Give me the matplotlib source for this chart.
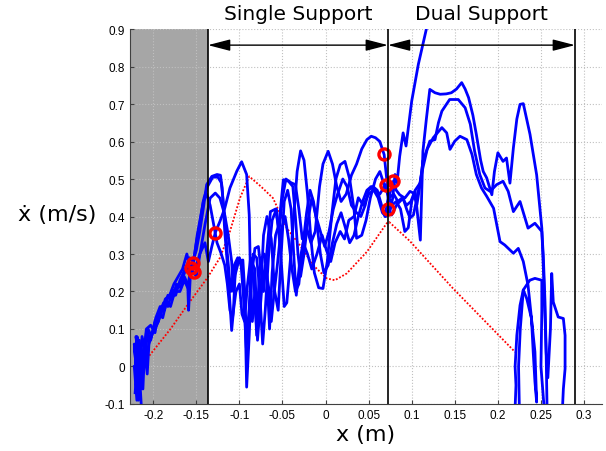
import numpy as np
import matplotlib
matplotlib.use("Agg")
import matplotlib.pyplot as plt
from matplotlib.patches import FancyArrowPatch
import matplotlib.transforms as mtransforms

# phase boundaries (x in m)
x_lo, x_hi = -0.227, 0.3205
ss_start, ds_start, ds_end = -0.1365, 0.0724, 0.2895
arrow_y = 0.857

xticks = [-0.2, -0.15, -0.1, -0.05, 0, 0.05, 0.1, 0.15, 0.2, 0.25, 0.3]
xtick_labels = ["-0.2", "-0.15", "-0.1", "-0.05", "0", "0.05", "0.1", "0.15", "0.2", "0.25", "0.3"]
yticks = [-0.1, 0, 0.1, 0.2, 0.3, 0.4, 0.5, 0.6, 0.7, 0.8, 0.9]
ytick_labels = ["-0.1", "0", "0.1", "0.2", "0.3", "0.4", "0.5", "0.6", "0.7", "0.8", "0.9"]

# measured trajectories (x, xdot)
traj_a = [(-0.219, -0.03), (-0.222, 0.06), (-0.217, -0.09), (-0.214, 0.04), (-0.219, 0.08), (-0.212, 0.02),
          (-0.208, 0.09), (-0.203, 0.07), (-0.198, 0.12), (-0.193, 0.14), (-0.188, 0.17), (-0.183, 0.16),
          (-0.178, 0.20), (-0.172, 0.21), (-0.167, 0.23), (-0.162, 0.26), (-0.158, 0.29), (-0.154, 0.28),
          (-0.150, 0.31), (-0.146, 0.36), (-0.142, 0.42), (-0.138, 0.485), (-0.132, 0.507), (-0.126, 0.512),
          (-0.122, 0.51), (-0.120, 0.476), (-0.117, 0.36), (-0.113, 0.244), (-0.109, 0.096), (-0.107, 0.146),
          (-0.105, 0.244), (-0.101, 0.28), (-0.096, 0.284), (-0.094, 0.208), (-0.0916, -0.055), (-0.0886, 0.083),
          (-0.0858, 0.244), (-0.082, 0.315), (-0.078, 0.32), (-0.075, 0.26), (-0.072, 0.20), (-0.068, 0.31),
          (-0.064, 0.413), (-0.058, 0.42), (-0.054, 0.36), (-0.050, 0.45), (-0.046, 0.50), (-0.040, 0.49),
          (-0.035, 0.485), (-0.031, 0.42), (-0.027, 0.34), (-0.022, 0.37), (-0.017, 0.33), (-0.012, 0.36),
          (-0.007, 0.48), (-0.003, 0.54), (0.003, 0.574), (0.008, 0.54), (0.013, 0.48), (0.018, 0.44),
          (0.024, 0.46), (0.030, 0.51), (0.036, 0.54), (0.042, 0.58), (0.048, 0.605), (0.053, 0.614),
          (0.058, 0.61), (0.063, 0.60), (0.068, 0.565), (0.071, 0.50), (0.073, 0.43), (0.0748, 0.414),
          (0.078, 0.45), (0.0806, 0.512), (0.083, 0.49), (0.086, 0.56), (0.090, 0.623), (0.0934, 0.588),
          (0.100, 0.708), (0.1077, 0.806), (0.117, 0.90), (0.121, 0.96)]

traj_b = [(-0.214, -0.10), (-0.217, 0.02), (-0.212, -0.06), (-0.210, 0.05), (-0.207, -0.02), (-0.205, 0.06),
          (-0.201, 0.09), (-0.196, 0.11), (-0.191, 0.14), (-0.186, 0.18), (-0.181, 0.19), (-0.176, 0.22),
          (-0.171, 0.24), (-0.166, 0.26), (-0.161, 0.30), (-0.157, 0.26), (-0.155, 0.257), (-0.150, 0.24),
          (-0.146, 0.297), (-0.140, 0.378), (-0.134, 0.449), (-0.128, 0.4625), (-0.1226, 0.449), (-0.117, 0.404),
          (-0.113, 0.351), (-0.109, 0.28), (-0.107, 0.20), (-0.104, 0.27), (-0.100, 0.29), (-0.097, 0.27),
          (-0.094, 0.15), (-0.090, 0.10), (-0.087, 0.20), (-0.084, 0.30), (-0.080, 0.29), (-0.077, 0.22),
          (-0.073, 0.06), (-0.070, 0.15), (-0.066, 0.30), (-0.062, 0.39), (-0.057, 0.42), (-0.052, 0.30),
          (-0.048, 0.16), (-0.045, 0.17), (-0.041, 0.28), (-0.037, 0.40), (-0.033, 0.52), (-0.029, 0.575),
          (-0.025, 0.55), (-0.021, 0.46), (-0.017, 0.34), (-0.013, 0.25), (-0.008, 0.21), (-0.003, 0.208),
          (0.002, 0.28), (0.007, 0.40), (0.012, 0.50), (0.017, 0.538), (0.0225, 0.547), (0.028, 0.50),
          (0.033, 0.42), (0.036, 0.342), (0.042, 0.35), (0.047, 0.39), (0.052, 0.45), (0.058, 0.50),
          (0.063, 0.52), (0.068, 0.485), (0.072, 0.46), (0.077, 0.43), (0.082, 0.44), (0.087, 0.42),
          (0.092, 0.36), (0.096, 0.37), (0.100, 0.44), (0.104, 0.467), (0.107, 0.40), (0.110, 0.337),
          (0.113, 0.574), (0.117, 0.66), (0.121, 0.739), (0.127, 0.73), (0.133, 0.726), (0.140, 0.727),
          (0.146, 0.730), (0.152, 0.74), (0.158, 0.757), (0.162, 0.74), (0.166, 0.717), (0.171, 0.67),
          (0.175, 0.619), (0.180, 0.55), (0.183, 0.52), (0.187, 0.503), (0.193, 0.458), (0.196, 0.52),
          (0.200, 0.57), (0.206, 0.547), (0.210, 0.556), (0.214, 0.489), (0.218, 0.583), (0.222, 0.66),
          (0.2257, 0.699), (0.2295, 0.701), (0.2373, 0.619), (0.245, 0.511), (0.251, 0.369), (0.2535, 0.217),
          (0.256, 0.039), (0.257, -0.10), (0.255, -0.15), (0.250, 0.0), (0.251, 0.15), (0.251, 0.23),
          (0.243, 0.235), (0.237, 0.23), (0.2295, 0.204), (0.226, 0.10), (0.224, 0.0), (0.225, -0.12)]

traj_c = [(-0.221, -0.07), (-0.218, 0.03), (-0.220, 0.08), (-0.215, 0.00), (-0.213, 0.08), (-0.209, 0.04),
          (-0.206, 0.10), (-0.202, 0.08), (-0.197, 0.13), (-0.192, 0.16), (-0.187, 0.15), (-0.183, 0.19),
          (-0.178, 0.18), (-0.173, 0.22), (-0.168, 0.21), (-0.164, 0.24), (-0.160, 0.22), (-0.159, 0.15),
          (-0.157, 0.24), (-0.155, 0.26), (-0.150, 0.27), (-0.146, 0.30), (-0.140, 0.33), (-0.136, 0.28),
          (-0.132, 0.32), (-0.128, 0.357), (-0.1226, 0.387), (-0.117, 0.422), (-0.111, 0.476), (-0.103, 0.521),
          (-0.0974, 0.546), (-0.0916, 0.512), (-0.0886, 0.404), (-0.087, 0.226), (-0.085, 0.12), (-0.082, 0.20),
          (-0.080, 0.083), (-0.077, 0.25), (-0.074, 0.29), (-0.071, 0.30), (-0.068, 0.24), (-0.065, 0.10),
          (-0.062, 0.25), (-0.058, 0.35), (-0.054, 0.38), (-0.049, 0.498), (-0.043, 0.494), (-0.038, 0.48),
          (-0.035, 0.40), (-0.032, 0.30), (-0.029, 0.24), (-0.025, 0.30), (-0.021, 0.38), (-0.016, 0.45),
          (-0.011, 0.40), (-0.006, 0.36), (-0.001, 0.32), (0.004, 0.36), (0.009, 0.42), (0.014, 0.46),
          (0.020, 0.50), (0.025, 0.48), (0.030, 0.43), (0.036, 0.41), (0.041, 0.40), (0.046, 0.43),
          (0.050, 0.47), (0.055, 0.48), (0.060, 0.47), (0.065, 0.43), (0.069, 0.40), (0.072, 0.44),
          (0.0786, 0.494), (0.082, 0.47), (0.086, 0.458), (0.092, 0.449), (0.098, 0.467), (0.102, 0.4625),
          (0.106, 0.431), (0.110, 0.49), (0.113, 0.547), (0.121, 0.601), (0.127, 0.605), (0.131, 0.65),
          (0.135, 0.681), (0.144, 0.712), (0.154, 0.712), (0.162, 0.69), (0.168, 0.646), (0.173, 0.574),
          (0.179, 0.512), (0.185, 0.476), (0.191, 0.467), (0.1986, 0.485), (0.206, 0.494), (0.212, 0.467),
          (0.218, 0.413), (0.2257, 0.44), (0.235, 0.369), (0.243, 0.382), (0.251, 0.36), (0.2527, 0.297),
          (0.2547, 0.172), (0.256, 0.039), (0.258, -0.03), (0.261, 0.10), (0.2625, 0.248), (0.2643, 0.172),
          (0.270, 0.132), (0.276, 0.128), (0.278, 0.083), (0.278, -0.006), (0.276, -0.06), (0.275, -0.11)]

traj_d = [(-0.216, 0.01), (-0.220, -0.05), (-0.218, 0.05), (-0.213, -0.03), (-0.211, 0.06), (-0.207, 0.03),
          (-0.204, 0.08), (-0.199, 0.10), (-0.194, 0.12), (-0.190, 0.16), (-0.185, 0.17), (-0.180, 0.16),
          (-0.175, 0.20), (-0.169, 0.20), (-0.164, 0.23), (-0.160, 0.21), (-0.157, 0.255), (-0.153, 0.28),
          (-0.149, 0.35), (-0.145, 0.40), (-0.141, 0.45), (-0.137, 0.48), (-0.131, 0.505), (-0.125, 0.505),
          (-0.121, 0.49), (-0.117, 0.40), (-0.114, 0.30), (-0.110, 0.20), (-0.106, 0.27), (-0.102, 0.29),
          (-0.098, 0.27), (-0.095, 0.18), (-0.092, 0.05), (-0.089, 0.14), (-0.086, 0.28), (-0.082, 0.26),
          (-0.079, 0.07), (-0.076, 0.16), (-0.072, 0.35), (-0.068, 0.40), (-0.063, 0.34), (-0.059, 0.20),
          (-0.055, 0.15), (-0.052, 0.28), (-0.048, 0.44), (-0.044, 0.47), (-0.040, 0.42), (-0.037, 0.30),
          (-0.034, 0.19), (-0.030, 0.28), (-0.026, 0.33), (-0.021, 0.30), (-0.016, 0.26), (-0.010, 0.30),
          (-0.004, 0.35), (0.001, 0.31), (0.006, 0.28), (0.011, 0.33), (0.017, 0.36), (0.022, 0.34),
          (0.027, 0.39), (0.033, 0.40), (0.038, 0.45), (0.044, 0.43), (0.050, 0.46), (0.056, 0.47),
          (0.061, 0.45), (0.066, 0.41), (0.070, 0.40), (0.073, 0.42), (0.0767, 0.404), (0.0825, 0.431),
          (0.090, 0.449), (0.094, 0.42), (0.098, 0.396), (0.102, 0.404), (0.1076, 0.467), (0.113, 0.53),
          (0.118, 0.58), (0.125, 0.61), (0.135, 0.637), (0.1406, 0.623), (0.1444, 0.579), (0.150, 0.601),
          (0.156, 0.614), (0.164, 0.605), (0.170, 0.565), (0.175, 0.512), (0.181, 0.476), (0.187, 0.454),
          (0.195, 0.422), (0.2025, 0.333), (0.208, 0.324), (0.218, 0.302), (0.2237, 0.315), (0.2295, 0.28),
          (0.235, 0.217), (0.239, 0.128), (0.243, 0.039), (0.245, -0.095), (0.243, -0.04), (0.241, 0.039),
          (0.239, 0.128), (0.2335, 0.181), (0.2295, 0.204), (0.2257, 0.163), (0.222, 0.083), (0.220, 0.0),
          (0.221, -0.05), (0.220, -0.11)]

traj_e = [(-0.222, 0.00), (-0.219, -0.09), (-0.216, 0.07), (-0.214, -0.04), (-0.211, 0.03), (-0.208, 0.10),
          (-0.203, 0.11), (-0.198, 0.09), (-0.194, 0.14), (-0.189, 0.13), (-0.184, 0.18), (-0.179, 0.19),
          (-0.174, 0.19), (-0.169, 0.23), (-0.165, 0.25), (-0.161, 0.27), (-0.158, 0.25), (-0.154, 0.27),
          (-0.150, 0.33), (-0.146, 0.38), (-0.142, 0.44), (-0.138, 0.46), (-0.134, 0.43), (-0.130, 0.38),
          (-0.126, 0.33), (-0.121, 0.30), (-0.117, 0.27), (-0.114, 0.22), (-0.111, 0.15), (-0.108, 0.13),
          (-0.104, 0.20), (-0.100, 0.22), (-0.097, 0.14), (-0.094, 0.12), (-0.091, 0.21), (-0.087, 0.29),
          (-0.083, 0.22), (-0.080, 0.10), (-0.077, 0.12), (-0.074, 0.21), (-0.070, 0.27), (-0.066, 0.21),
          (-0.063, 0.12), (-0.060, 0.19), (-0.056, 0.27), (-0.052, 0.36), (-0.047, 0.40), (-0.043, 0.34),
          (-0.039, 0.26), (-0.035, 0.20), (-0.031, 0.22), (-0.027, 0.31), (-0.022, 0.41), (-0.018, 0.47),
          (-0.014, 0.44), (-0.010, 0.38), (-0.006, 0.30), (-0.002, 0.25), (0.003, 0.27), (0.008, 0.33),
          (0.013, 0.38), (0.018, 0.41), (0.023, 0.37), (0.028, 0.33), (0.033, 0.35), (0.038, 0.40),
          (0.043, 0.44), (0.048, 0.47), (0.053, 0.48), (0.058, 0.47), (0.063, 0.46), (0.0697, 0.485),
          (0.074, 0.45), (0.079, 0.46), (0.084, 0.44), (0.089, 0.45), (0.094, 0.43), (0.099, 0.44),
          (0.104, 0.47), (0.110, 0.49), (0.113, 0.547)]

# reference (planned) trajectory, red dotted
ref_x = [-0.2045, -0.18, -0.16, -0.137, -0.1226, -0.111, -0.0994, -0.0886, -0.075, -0.061, -0.045,
         -0.030, -0.0143, 0.0013, 0.0108, 0.0245, 0.048, 0.071, 0.074, 0.0976, 0.148, 0.220]
ref_y = [0.029, 0.10, 0.165, 0.237, 0.29, 0.36, 0.449, 0.507, 0.48, 0.449, 0.369,
         0.324, 0.27, 0.235, 0.230, 0.248, 0.306, 0.382, 0.385, 0.335, 0.208, 0.0385]

# phase-switch events
event_x = [-0.1543, -0.1563, -0.1528, -0.128, 0.0678, 0.0697, 0.0786, 0.073]
event_y = [0.277, 0.262, 0.253, 0.357, 0.568, 0.485, 0.494, 0.42]

fig = plt.figure(figsize=(6.06, 4.52), dpi=100)
ax = fig.add_axes([0.2145, 0.104, 0.9929 - 0.2145, 0.9336 - 0.104])

ax.axvspan(x_lo, ss_start, color="#a6a6a6", zorder=0.5, lw=0)
ax.grid(True, linestyle=":", color="#c0c0c0", linewidth=0.8)

for tr in [traj_a, traj_b, traj_c, traj_d, traj_e]:
    t = np.array(tr)
    ax.plot(t[:, 0], t[:, 1], color="blue", lw=2.0, zorder=3)

ax.plot(ref_x, ref_y, color="red", lw=1.3, linestyle=(0, (1, 1)), zorder=2.5)
ax.plot(event_x, event_y, "o", ms=8, mfc="none", mec="red", mew=2.4, zorder=4)

for xv in [ss_start, ds_start, ds_end]:
    ax.axvline(xv, color="black", lw=1.2, zorder=5)

for a, b in [(ss_start, ds_start), (ds_start, ds_end)]:
    arr = FancyArrowPatch((a, arrow_y), (b, arrow_y),
                          arrowstyle="<|-|>,head_length=0.85,head_width=0.22",
                          mutation_scale=16, color="black", lw=1.0, shrinkA=0, shrinkB=0, zorder=6)
    ax.add_patch(arr)

trans = mtransforms.blended_transform_factory(ax.transData, ax.transAxes)
ax.text((ss_start + ds_start) / 2, 1.027, "Single Support", transform=trans,
        ha="center", va="baseline", fontsize=14.5)
ax.text((ds_start + ds_end) / 2, 1.027, "Dual Support", transform=trans,
        ha="center", va="baseline", fontsize=14.5)

ax.set_xlim(x_lo, x_hi)
ax.set_ylim(-0.1, 0.9)
ax.set_xticks(xticks)
ax.set_xticklabels(xtick_labels, fontsize=8.5, family="Liberation Sans")
ax.set_yticks(yticks)
ax.set_yticklabels(ytick_labels, fontsize=8.5, family="Liberation Sans")
ax.tick_params(direction="in", length=3, color="#404040")

for s in ["top", "right"]:
    ax.spines[s].set_visible(False)
for s in ["left", "bottom"]:
    ax.spines[s].set_color("#404040")

ax.set_xlabel("x (m)", fontsize=16, labelpad=2)
fig.text(57 / 606, 1 - 215 / 452, "ẋ (m/s)", fontsize=16, ha="center", va="center")

fig.savefig("out.png", dpi=100)
